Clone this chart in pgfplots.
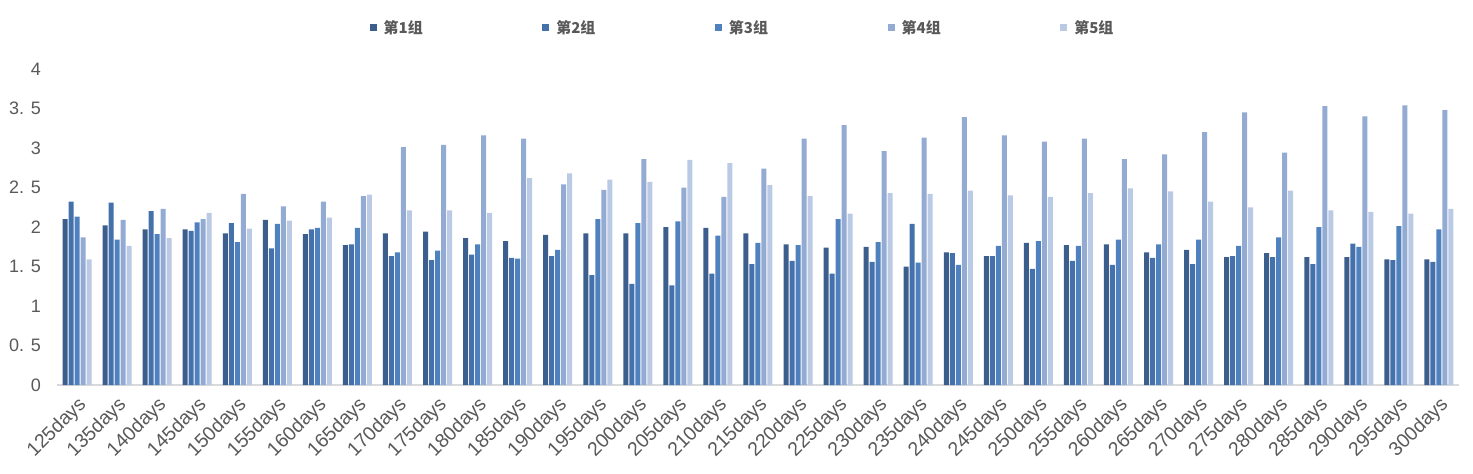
\documentclass[border=0pt]{standalone}
\usepackage{pgfplots}
\pgfplotsset{compat=1.18}
\usepackage{pgfplotstable}
\usepackage{fontspec}
\setmainfont{Liberation Sans}
\newfontfamily\cjk{Noto Sans CJK SC}
\definecolor{c1}{HTML}{3B5E8C}
\definecolor{c2}{HTML}{4470AC}
\definecolor{c3}{HTML}{4E81BD}
\definecolor{c4}{HTML}{93AAD2}
\definecolor{c5}{HTML}{BACAE4}
\definecolor{txt}{HTML}{595959}
\definecolor{axl}{HTML}{D9D9D9}
\pgfplotstableread{
x g1 g2 g3 g4 g5
0 2.10 2.32 2.13 1.87 1.59
1 2.02 2.31 1.84 2.09 1.76
2 1.97 2.20 1.91 2.23 1.86
3 1.97 1.95 2.06 2.10 2.18
4 1.92 2.05 1.81 2.42 1.98
5 2.09 1.73 2.04 2.26 2.08
6 1.91 1.97 1.99 2.32 2.12
7 1.77 1.78 1.99 2.39 2.41
8 1.92 1.63 1.68 3.01 2.21
9 1.94 1.58 1.70 3.04 2.21
10 1.86 1.65 1.78 3.16 2.18
11 1.82 1.61 1.60 3.12 2.62
12 1.90 1.63 1.71 2.54 2.68
13 1.92 1.39 2.10 2.47 2.60
14 1.92 1.28 2.05 2.86 2.57
15 2.00 1.26 2.07 2.50 2.85
16 1.99 1.41 1.89 2.38 2.81
17 1.92 1.53 1.80 2.74 2.53
18 1.78 1.57 1.77 3.12 2.39
19 1.74 1.41 2.10 3.29 2.17
20 1.75 1.56 1.81 2.96 2.43
21 1.50 2.04 1.55 3.13 2.42
22 1.68 1.67 1.52 3.39 2.46
23 1.63 1.63 1.76 3.16 2.40
24 1.80 1.47 1.82 3.08 2.38
25 1.77 1.57 1.76 3.12 2.43
26 1.78 1.52 1.84 2.86 2.49
27 1.68 1.61 1.78 2.92 2.45
28 1.71 1.53 1.84 3.20 2.32
29 1.62 1.63 1.76 3.45 2.25
30 1.67 1.62 1.87 2.94 2.46
31 1.62 1.53 2.00 3.53 2.21
32 1.62 1.79 1.75 3.40 2.19
33 1.59 1.58 2.01 3.54 2.17
34 1.59 1.56 1.97 3.48 2.23
}\data
\begin{document}
\begin{tikzpicture}
\path[use as bounding box] (-57pt,-89pt) rectangle (1416pt,385pt);
\begin{axis}[
  at={(0pt,0pt)}, anchor=south west,
  scale only axis, width=1402pt, height=316pt,
  ybar=1pt, bar width=5pt,
  xmin=-0.5, xmax=34.5, ymin=0, ymax=4,
  axis y line=none, axis x line*=bottom,
  x axis line style={axl, line width=1.2pt, -},
  ytick={0,0.5,...,4}, 
  xtick={0,...,34},
  xticklabels={125days,135days,140days,145days,150days,155days,160days,165days,170days,175days,180days,185days,190days,195days,200days,205days,210days,215days,220days,225days,230days,235days,240days,245days,250days,255days,260days,265days,270days,275days,280days,285days,290days,295days,300days},
  major tick length=0pt,
  x tick label style={font=\fontsize{19.5}{22}\selectfont, text=txt, yshift=-16pt, xshift=7pt, rotate=45, anchor=east, inner sep=1pt},
  clip=false,
  legend style={at={(0.489,1.13)}, anchor=center, draw=none, fill=none,
    font=\cjk\bfseries\fontsize{15}{18}\selectfont, text=txt,
    /tikz/every even column/.append style={column sep=117.5pt},
    /tikz/every odd column/.append style={column sep=5pt}},
  legend columns=5,
  legend image code/.code={\fill[#1] (0pt,-3.5pt) rectangle (7pt,3.5pt);},
  every axis plot/.append style={draw=none},
]
\addplot[fill=c1] table[x=x,y=g1]{\data};
\addplot[fill=c2] table[x=x,y=g2]{\data};
\addplot[fill=c3] table[x=x,y=g3]{\data};
\addplot[fill=c4] table[x=x,y=g4]{\data};
\addplot[fill=c5] table[x=x,y=g5]{\data};
\legend{第1组,第2组,第3组,第4组,第5组}
\foreach \v/\l in {0/0,0.5/0. 5,1/1,1.5/1. 5,2/2,2.5/2. 5,3/3,3.5/3. 5,4/4} {
  \edef\tmp{\noexpand\node[anchor=east, text=txt, font=\noexpand\fontsize{18}{20}\noexpand\selectfont, inner sep=0pt] at (axis cs:-0.5,\v) [xshift=-16pt] {\l};}
  \tmp
}
\end{axis}
\end{tikzpicture}
\end{document}
